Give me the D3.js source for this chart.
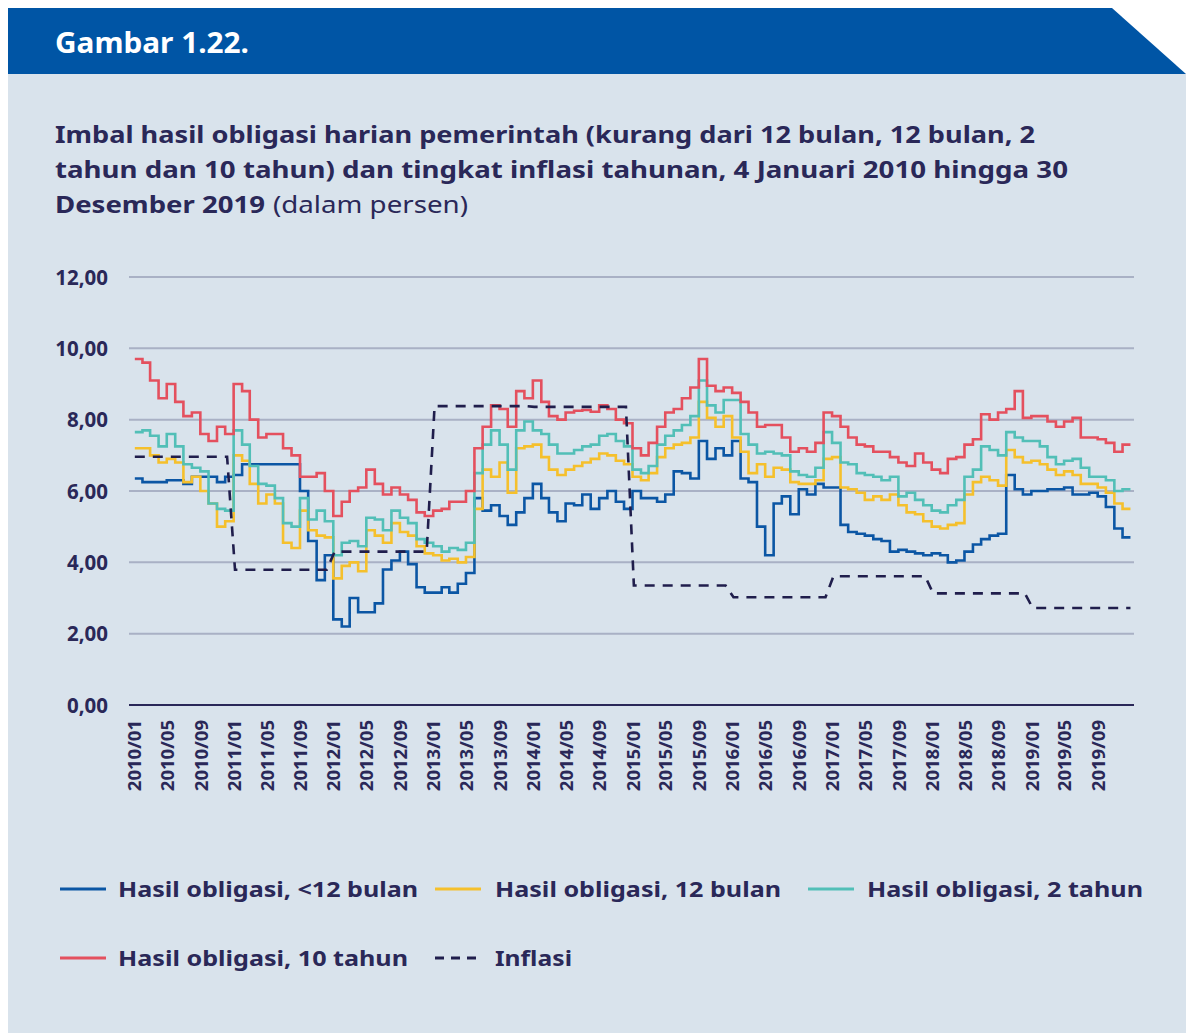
<!DOCTYPE html>
<html><head><meta charset="utf-8">
<script src="https://cdn.jsdelivr.net/npm/d3@7"></script>
<style>
body{margin:0;background:#fff}
svg{display:block;font-family:"Noto Sans","Open Sans",sans-serif}
</style>
</head><body>
<svg id="c" width="1186" height="1033"></svg>
<script>
// ---------- DATA (monthly readings, Jan 2010 .. Dec 2019) ----------
const seriesNames = ["Hasil obligasi, <12 bulan","Hasil obligasi, 12 bulan","Hasil obligasi, 2 tahun","Hasil obligasi, 10 tahun","Inflasi"];
const yieldUnder12m = [
6.35,6.25,6.25,6.25,6.3,6.3,6.2,6.4,6.4,6.4,6.25,6.4,
6.45,6.75,6.75,6.75,6.75,6.75,6.75,6.75,6.0,4.6,3.5,4.2,
2.4,2.2,3.0,2.6,2.6,2.85,3.8,4.05,4.3,3.95,3.3,3.15,
3.15,3.3,3.15,3.4,3.7,5.8,5.45,5.6,5.3,5.05,5.4,5.8,
6.2,5.8,5.4,5.15,5.65,5.6,5.9,5.5,5.8,6.0,5.7,5.5,
6.0,5.8,5.8,5.7,5.9,6.55,6.5,6.35,7.4,6.9,7.2,7.0,
7.4,6.35,6.25,5.0,4.2,5.65,5.85,5.35,6.05,5.9,6.2,6.1,
6.1,5.05,4.85,4.8,4.75,4.65,4.6,4.3,4.35,4.3,4.25,4.2,
4.25,4.2,4.0,4.05,4.3,4.5,4.65,4.75,4.8,6.45,6.05,5.9,
6.0,6.0,6.05,6.05,6.1,5.9,5.9,5.95,5.85,5.55,4.95,4.7];
const yield12m = [
7.2,7.2,7.0,6.8,6.9,6.8,6.25,6.4,6.0,5.65,5.0,5.15,
7.0,6.85,6.2,5.65,5.9,5.65,4.55,4.4,5.45,4.9,4.75,4.7,
3.55,3.9,4.0,3.75,4.9,4.75,4.55,5.1,4.85,4.75,4.45,4.25,
4.2,4.05,4.1,4.0,4.15,5.5,6.6,6.4,6.8,5.95,7.2,7.25,
7.3,6.95,6.6,6.45,6.6,6.7,6.8,6.9,7.05,7.0,6.85,6.75,
6.4,6.3,6.5,6.95,7.2,7.3,7.35,7.5,8.5,8.05,7.8,8.1,
7.5,7.1,6.5,6.75,6.4,6.65,6.6,6.25,6.2,6.2,6.3,6.9,
6.95,6.1,6.05,5.95,5.75,5.85,5.75,5.9,5.6,5.4,5.35,5.15,
5.0,4.95,5.05,5.1,5.9,6.25,6.4,6.3,6.15,7.15,6.95,6.8,
6.85,6.75,6.6,6.45,6.55,6.45,6.2,6.2,6.1,5.95,5.65,5.5];
const yield2y = [
7.65,7.7,7.55,7.25,7.6,7.25,6.75,6.65,6.55,5.65,5.5,5.45,
7.7,7.3,6.7,6.2,6.15,5.8,5.1,5.0,5.8,5.2,5.45,5.15,
4.2,4.55,4.6,4.45,5.25,5.2,4.9,5.45,5.25,5.1,4.65,4.55,
4.45,4.3,4.4,4.35,4.55,6.5,7.3,7.7,7.3,6.6,7.7,7.95,
7.7,7.6,7.3,7.05,7.05,7.15,7.25,7.3,7.55,7.6,7.4,7.25,
6.6,6.5,6.7,7.3,7.55,7.7,7.85,8.1,9.1,8.4,8.2,8.55,
8.55,7.6,7.3,7.05,7.1,7.05,7.0,6.55,6.45,6.4,6.65,7.65,
7.35,6.8,6.75,6.5,6.45,6.4,6.3,6.4,5.85,5.95,5.75,5.6,
5.45,5.4,5.6,5.75,6.4,6.6,7.25,7.15,7.0,7.65,7.5,7.4,
7.4,7.25,6.95,6.75,6.85,6.9,6.65,6.4,6.4,6.3,6.0,6.05];
const yield10y = [
9.7,9.6,9.1,8.6,9.0,8.5,8.1,8.2,7.6,7.4,7.8,7.6,
9.0,8.8,8.0,7.5,7.6,7.6,7.2,7.0,6.4,6.4,6.5,6.0,
5.3,5.7,6.0,6.1,6.6,6.2,5.9,6.1,5.9,5.75,5.4,5.3,
5.45,5.5,5.7,5.7,6.0,7.2,7.8,8.4,8.3,7.8,8.8,8.6,
9.1,8.5,8.1,8.0,8.2,8.25,8.27,8.22,8.4,8.3,8.0,7.9,
7.2,7.0,7.35,7.8,8.2,8.3,8.6,8.9,9.7,8.95,8.8,8.9,
8.75,8.5,8.2,7.8,7.85,7.85,7.5,7.1,7.2,7.1,7.35,8.2,
8.1,7.8,7.5,7.3,7.25,7.1,7.1,6.95,6.8,6.7,7.05,6.8,
6.6,6.5,6.9,6.95,7.3,7.45,8.15,8.0,8.2,8.3,8.8,8.05,
8.1,8.1,7.95,7.8,7.95,8.05,7.5,7.5,7.45,7.35,7.1,7.3];
const inflationYears = [2010,2011,2012,2013,2014,2015,2016,2017,2018,2019];
const inflationValues = [6.96,3.79,4.30,8.38,8.36,3.35,3.02,3.61,3.13,2.72];
const yTicks = [0,2,4,6,8,10,12];
const xTickLabels = ["2010/01","2010/05","2010/09","2011/01","2011/05","2011/09","2012/01","2012/05","2012/09","2013/01","2013/05","2013/09","2014/01","2014/05","2014/09","2015/01","2015/05","2015/09","2016/01","2016/05","2016/09","2017/01","2017/05","2017/09","2018/01","2018/05","2018/09","2019/01","2019/05","2019/09"];

// ---------- STYLE ----------
const navy = "#2a2858";
const colors = ["#0b56a4","#f5c02c","#52bfb7","#e4505e","#201e4c"];

const svg = d3.select("#c");
// background
svg.append("rect").attr("x",0).attr("y",0).attr("width",1186).attr("height",1033).attr("fill","#ffffff");
svg.append("rect").attr("x",8).attr("y",74).attr("width",1178).attr("height",959).attr("fill","#d9e3ec");
svg.append("path").attr("d","M8,8 L1112,8 L1186,74 L8,74 Z").attr("fill","#0055a5");
svg.append("text").attr("x",55).attr("y",53).attr("fill","#fff").attr("font-weight",700)
  .attr("font-size",28).attr("textLength",194).attr("lengthAdjust","spacingAndGlyphs").text("Gambar 1.22.");

// title
svg.append("text").attr("x",55).attr("y",143).attr("fill",navy).attr("font-weight",700).attr("font-size",23.5)
  .attr("textLength",980).attr("lengthAdjust","spacingAndGlyphs")
  .text("Imbal hasil obligasi harian pemerintah (kurang dari 12 bulan, 12 bulan, 2");
svg.append("text").attr("x",55).attr("y",178).attr("fill",navy).attr("font-weight",700).attr("font-size",23.5)
  .attr("textLength",1013).attr("lengthAdjust","spacingAndGlyphs")
  .text("tahun dan 10 tahun) dan tingkat inflasi tahunan, 4 Januari 2010 hingga 30");
svg.append("text").attr("x",55).attr("y",213).attr("fill",navy).attr("font-weight",700).attr("font-size",23.5)
  .attr("textLength",210).attr("lengthAdjust","spacingAndGlyphs").text("Desember 2019");
svg.append("text").attr("x",273).attr("y",213).attr("fill",navy).attr("font-weight",400).attr("font-size",23.5)
  .attr("textLength",195).attr("lengthAdjust","spacingAndGlyphs").text("(dalam persen)");

// ---------- SCALES ----------
const x = d3.scaleTime().domain([new Date(2010,0,1), new Date(2020,0,1)]).range([134,1131]);
const y = d3.scaleLinear().domain([0,12]).range([705,277]);
const plotL = 129, plotR = 1134;

// gridlines
svg.append("g").selectAll("line").data(yTicks.filter(d=>d>0)).join("line")
  .attr("x1",plotL).attr("x2",plotR).attr("y1",d=>y(d)).attr("y2",d=>y(d))
  .attr("stroke","#a9b1c5").attr("stroke-width",2);

// y axis
const yAxis = d3.axisLeft(y).tickValues(yTicks).tickSize(0).tickPadding(0)
  .tickFormat(d=>d3.format(".2f")(d).replace(".",","));
const gy = svg.append("g").attr("transform","translate(108,0)").call(yAxis);
gy.select(".domain").remove();
gy.selectAll("text").attr("fill",navy).attr("font-size",20.5).attr("font-weight",700)
  .attr("font-family","'Noto Sans','Open Sans',sans-serif").attr("text-anchor","end").attr("x",0).attr("dy","0.35em");

// x axis
const parse = d3.timeParse("%Y/%m");
const xAxis = d3.axisBottom(x).tickValues(xTickLabels.map(parse)).tickSize(0)
  .tickFormat(d3.timeFormat("%Y/%m"));
const gx = svg.append("g").attr("transform","translate(0,705)").call(xAxis);
gx.select(".domain").remove();
gx.selectAll("text").attr("fill",navy).attr("font-size",18.5).attr("font-weight",700)
  .attr("font-family","'Noto Sans','Open Sans',sans-serif")
  .attr("transform","rotate(-90)").attr("text-anchor","end").attr("x",-15).attr("y",0).attr("dy","0.36em");
svg.append("line").attr("x1",plotL).attr("x2",plotR).attr("y1",y(0)).attr("y2",y(0))
  .attr("stroke",navy).attr("stroke-width",2);

// ---------- LINES ----------
const months = d3.timeMonth.range(new Date(2010,0,1), new Date(2020,0,1));
function toPts(vals){
  const pts = vals.map((v,i)=>({date: i===0 ? new Date(2010,0,4) : months[i], v}));
  pts.push({date:new Date(2019,11,30), v: vals[vals.length-1]});
  return pts;
}
const line = d3.line().x(d=>x(d.date)).y(d=>y(d.v)).curve(d3.curveStepAfter);
[yieldUnder12m, yield12m, yield2y, yield10y].forEach((vals,i)=>{
  svg.append("path").datum(toPts(vals)).attr("d",line).attr("fill","none")
    .attr("stroke",colors[i]).attr("stroke-width",2.6).attr("stroke-linejoin","miter");
});
// inflation (annual values, ramps at year change)
const inflPts = [];
inflationYears.forEach((yr,i)=>{
  inflPts.push({date: i===0 ? new Date(2010,0,4) : new Date(yr,0,6), v: inflationValues[i]});
  inflPts.push({date: i===inflationYears.length-1 ? new Date(2019,11,30) : new Date(yr,11,8), v: inflationValues[i]});
});
svg.append("path").datum(inflPts).attr("d",d3.line().x(d=>x(d.date)).y(d=>y(d.v)))
  .attr("fill","none").attr("stroke",colors[4]).attr("stroke-width",2.6).attr("stroke-dasharray","10,8");

// ---------- LEGEND ----------
const legend = [
  {i:0, x1:60, x2:106, tx:118, ty:889, w:300},
  {i:1, x1:435, x2:481, tx:495, ty:889, w:286},
  {i:2, x1:808, x2:854, tx:867, ty:889, w:276},
  {i:3, x1:60, x2:106, tx:118, ty:958, w:290},
  {i:4, x1:435, x2:480, tx:495, ty:958, w:77}
];
legend.forEach(l=>{
  svg.append("line").attr("x1",l.x1).attr("x2",l.x2).attr("y1",l.ty).attr("y2",l.ty)
    .attr("stroke",colors[l.i]).attr("stroke-width",3)
    .attr("stroke-dasharray", l.i===4 ? "9,7" : null);
  svg.append("text").attr("x",l.tx).attr("y",l.ty+8).attr("fill",navy).attr("font-weight",700)
    .attr("font-size",22).attr("textLength",l.w).attr("lengthAdjust","spacingAndGlyphs").text(seriesNames[l.i]);
});
</script>
</body></html>
